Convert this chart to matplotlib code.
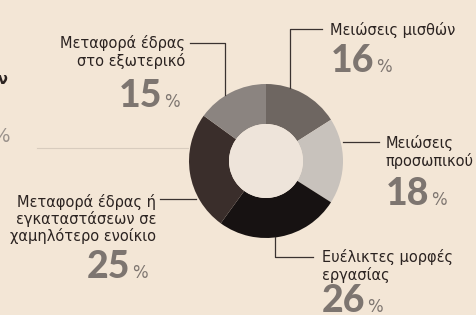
import matplotlib
matplotlib.use("Agg")
import matplotlib.pyplot as plt

# Data
categories = ["Μειώσεις μισθών", "Μειώσεις\nπροσωπικού", "Ευέλικτες μορφές\nεργασίας",
              "Μεταφορά έδρας ή\nεγκαταστάσεων σε\nχαμηλότερο ενοίκιο",
              "Μεταφορά έδρας\nστο εξωτερικό"]
values = [16, 18, 26, 25, 15]
colors = ["#6e6661", "#c8c2bc", "#171212", "#3a2e2b", "#8b8480"]

W, H = 476, 315
BG = "#f3e6d6"
TXT = "#2b2321"
NUM = "#7d7570"

fig = plt.figure(figsize=(W / 100, H / 100), dpi=100, facecolor=BG)
ax = fig.add_axes([0, 0, 1, 1])
ax.set_facecolor(BG)

def Y(y):
    return H - y

cx, cy, R, r_in = 266, 161, 77, 37
ax.pie(values, colors=colors, startangle=90, counterclock=False,
       center=(cx, Y(cy)), radius=R,
       wedgeprops=dict(width=R - r_in, linewidth=0), frame=True)
ax.add_patch(plt.Circle((cx, Y(cy)), r_in, color="#eee4da", lw=0, zorder=3))

ax.set_xlim(0, W)
ax.set_ylim(0, H)
ax.set_aspect("equal")
ax.axis("off")

lc = "#3a3230"
lw = 0.9
# leader lines
ax.plot([190, 225, 225], [Y(43), Y(43), Y(95)], color=lc, lw=lw)          # 15%
ax.plot([322, 290, 290], [Y(29), Y(29), Y(88)], color=lc, lw=lw)          # 16%
ax.plot([343, 379], [Y(142), Y(142)], color=lc, lw=lw)                    # 18%
ax.plot([275, 275, 313], [Y(237), Y(257), Y(257)], color=lc, lw=lw)       # 26%
ax.plot([160, 196], [Y(199), Y(199)], color=lc, lw=lw)                    # 25%
# faint separator at left
ax.plot([37, 188], [Y(148), Y(148)], color="#d8ccbe", lw=0.8)

fs = 10.5
ff = "DejaVu Sans"
# labels
ax.text(330, Y(30), categories[0], ha="left", va="center", fontsize=fs, color=TXT, family=ff)
ax.text(386, Y(152), categories[1], ha="left", va="center", fontsize=fs, color=TXT,
        family=ff, linespacing=1.1)
ax.text(322, Y(266), categories[2], ha="left", va="center", fontsize=fs, color=TXT,
        family=ff, linespacing=1.1)
ax.text(156, Y(219), categories[3], ha="right", va="center", fontsize=fs, color=TXT,
        family=ff, linespacing=1.1, multialignment="right")
ax.text(185, Y(52), categories[4], ha="right", va="center", fontsize=fs, color=TXT,
        family=ff, linespacing=1.1, multialignment="right")

# big numbers: (x of digits' left, baseline y)
num_pos = [(331, 72), (386, 205), (322, 312), (87, 278), (119, 107)]
nums = []
for v, (x, y) in zip(values, num_pos):
    t = ax.text(x, Y(y), f"{v}", ha="left", va="baseline", fontsize=27,
                fontweight="black", color=NUM, family="Lato")
    nums.append((t, y))

fig.canvas.draw()
renderer = fig.canvas.get_renderer()
inv = ax.transData.inverted()
for t, y in nums:
    bb = t.get_window_extent(renderer)
    xr = inv.transform((bb.x1, bb.y0))[0]
    ax.text(xr + 1.5, Y(y), "%", ha="left", va="baseline", fontsize=12,
            color=NUM, family=ff)

# cut-off remnants of neighbouring chart at left edge
ax.text(-2, Y(79), "ν", ha="left", va="center", fontsize=fs, color=TXT,
        family=ff, fontweight="bold")
ax.text(-8, Y(137), "%", ha="left", va="center", fontsize=14, color="#9a928c", family=ff)

fig.savefig("out.png", dpi=100, facecolor=BG)
